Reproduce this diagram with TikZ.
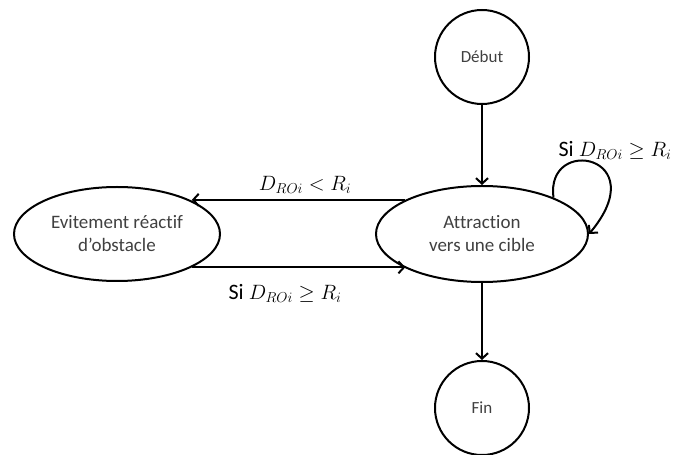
\documentclass[tikz,border=0pt]{standalone}
\usepackage{fontspec}
\setmainfont{Carlito}[Ligatures={NoCommon}]
\usetikzlibrary{shapes.geometric,arrows.meta}
\definecolor{txtgray}{HTML}{404040}
\tikzset{
  arr/.style={line width=2pt,-{Straight Barb[length=5.5pt,width=12pt]}},
  statecirc/.style={circle,draw,line width=2pt,minimum size=94pt,inner sep=0pt,
    text=txtgray,font=\fontsize{17}{20}\selectfont},
  stateell/.style={ellipse,draw,line width=2pt,inner sep=0pt,align=center,
    text=txtgray,font=\fontsize{19}{23}\selectfont},
  lbl/.style={inner sep=0pt,font=\fontsize{22}{26}\selectfont}
}
\begin{document}
\begin{tikzpicture}[x=1pt,y=1pt]
\useasboundingbox (0,0) rectangle (680,455);
\node[statecirc] (debut) at (482,398) {Début};
\node[stateell,minimum width=212pt,minimum height=96pt] (attr) at (482,221) {Attraction\\vers une cible};
\node[statecirc] (fin) at (482,47) {Fin};
\node[stateell,minimum width=206pt,minimum height=94pt] (evit) at (117,221) {Evitement réactif\\d’obstacle};

\draw[arr] (debut) -- (attr);
\draw[arr] (attr) -- (fin);
\draw[arr] (attr.156.8) -- (attr.156.8 -| evit.24.2);
\draw[arr] (evit.-24.2) -- (evit.-24.2 -| attr.-156.8);
\draw[arr] (attr.27) .. controls (545,320) and (655,300) .. (attr.east);

\node[lbl] (l1) at (305,270) {$D_{ROi} < R_i$};
\node[lbl] (l2) at (285,162) {Si $D_{ROi} \geq R_i$};
\node[lbl] (l3) at (615,305) {Si $D_{ROi} \geq R_i$};
\end{tikzpicture}
\end{document}
